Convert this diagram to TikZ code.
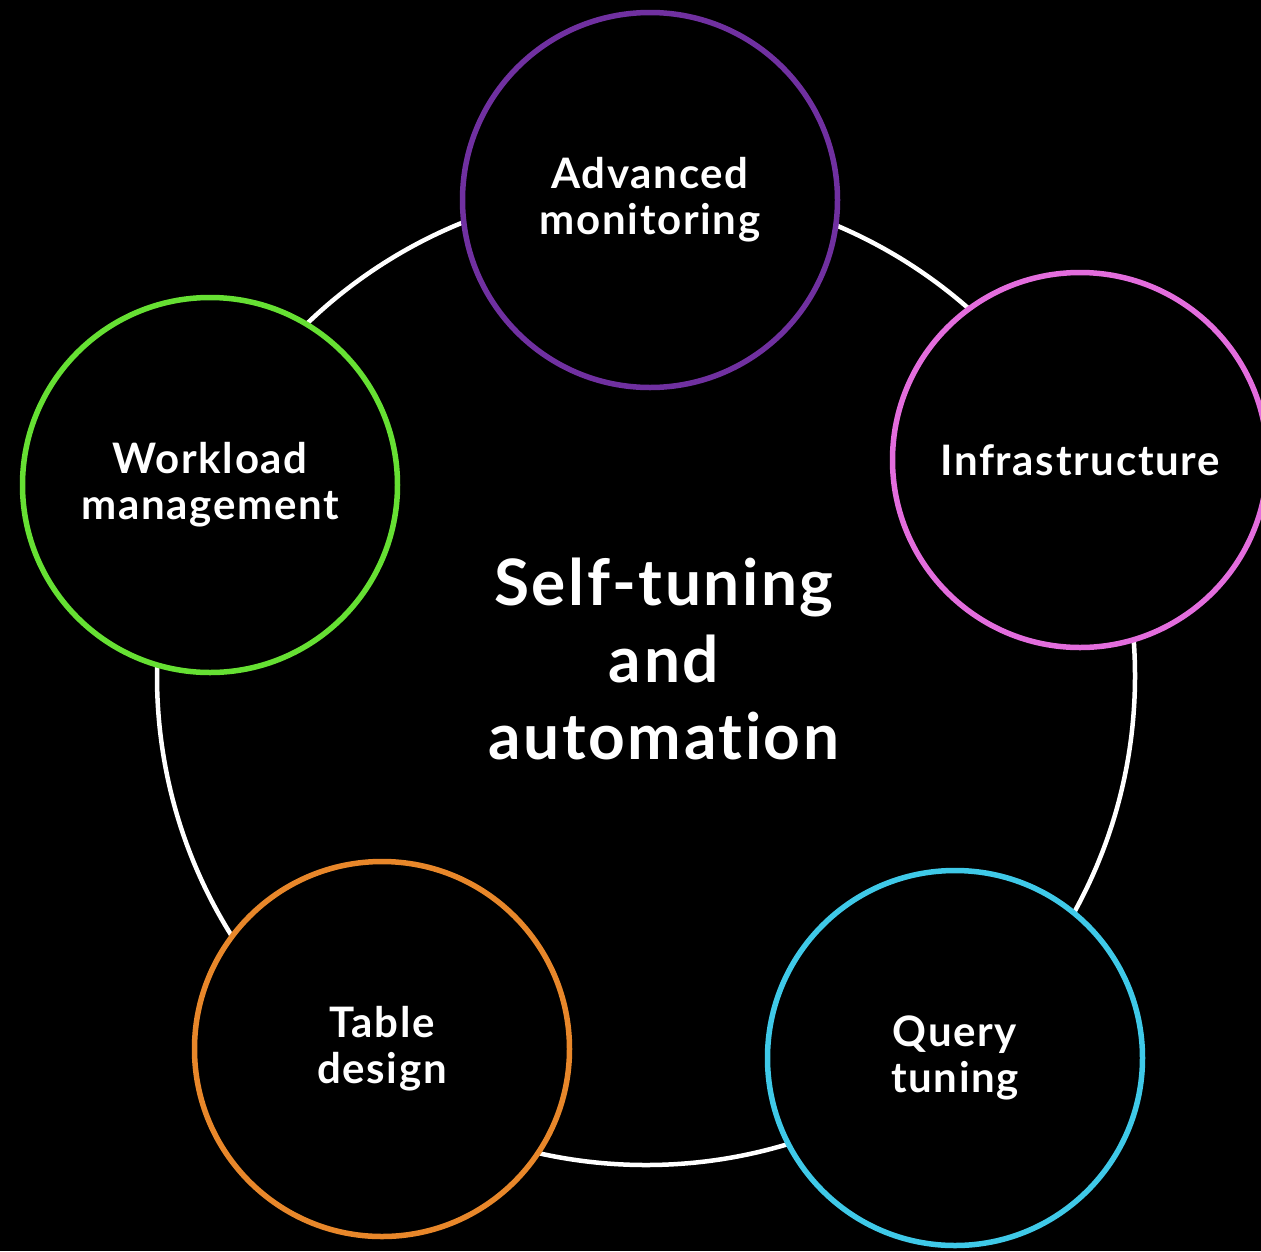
\documentclass[tikz,border=0pt]{standalone}
\usepackage{fontspec}
\setmainfont{Lato}[Ligatures={NoCommon},LetterSpace=4]
\definecolor{cpurple}{HTML}{7030A0}
\definecolor{cpink}{HTML}{E36DDD}
\definecolor{cgreen}{HTML}{66E033}
\definecolor{corange}{HTML}{E8872A}
\definecolor{ccyan}{HTML}{3FC9E8}
\begin{document}
\begin{tikzpicture}[x=1pt,y=-1pt,
  ring/.style={draw=white,line width=4.5pt},
  topic/.style={circle,minimum size=375pt,inner sep=0pt,fill=black,line width=5.5pt,
    text=white,align=center,font=\bfseries\fontsize{42}{46}\selectfont},
  title/.style={text=white,align=center,font=\bfseries\fontsize{64}{77}\selectfont}]
\useasboundingbox (0,0) rectangle (1261,1251);
\clip (0,0) rectangle (1261,1251);
\fill[black] (0,0) rectangle (1261,1251);
\coordinate (hub) at (646,676);
\draw[ring] (hub) circle[radius=489pt];
\node[title] (center) at (664,659) {Self-tuning\\and\\automation};
\node[topic,draw=cpurple] (adv) at (650,200) {Advanced\\monitoring};
\node[topic,draw=cpink] (infra) at (1080,460) {Infrastructure};
\node[topic,draw=cgreen] (work) at (210,485) {Workload\\management};
\node[topic,draw=corange] (table) at (382,1049) {Table\\design};
\node[topic,draw=ccyan] (query) at (955,1058) {Query\\tuning};
\end{tikzpicture}
\end{document}
